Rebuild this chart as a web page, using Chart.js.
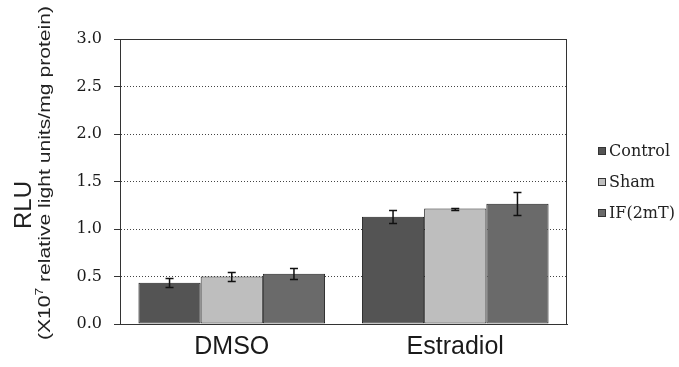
<!DOCTYPE html>
<html>
<head>
<meta charset="utf-8">
<script src="https://cdn.jsdelivr.net/npm/chart.js@4.4.1/dist/chart.umd.min.js"></script>
<style>
  html, body { margin: 0; padding: 0; background: #fff; }
  #wrap { width: 679px; height: 367px; }
</style>
</head>
<body>
<div id="wrap"><canvas id="rlu-chart" width="679" height="367"></canvas></div>
<script>
// ---- data ----
const groups = ['DMSO', 'Estradiol'];
const seriesNames = ['Control', 'Sham', 'IF(2mT)'];
const controlVals = [0.435, 1.13];
const shamVals    = [0.50, 1.215];
const ifVals      = [0.53, 1.265];
const controlErr  = [0.045, 0.065];
const shamErr     = [0.045, 0.01];
const ifErr       = [0.06, 0.12];
const yTicks      = [0, 0.5, 1.0, 1.5, 2.0, 2.5, 3.0];

const fills = ['#545454', '#bebebe', '#6a6a6a'];
const serif = '"DejaVu Serif", "Liberation Serif", serif';
const sans  = '"Liberation Sans", Arial, sans-serif';

/*** ======== error bars ======== ***/
const errorBars = {
    id: 'errorBars',
    afterDatasetsDraw(chart) {
        const ctx = chart.ctx;
        const y = chart.scales.y;
        ctx.save();
        ctx.strokeStyle = '#111';
        ctx.lineWidth = 1.5;
        chart.data.datasets.forEach((ds, i) => {
            const meta = chart.getDatasetMeta(i);
            meta.data.forEach((bar, j) => {
                const v = ds.data[j], e = ds.errors[j];
                const top = Math.round(y.getPixelForValue(v + e)) + 0.5;
                const bot = Math.round(y.getPixelForValue(v - e)) + 0.5;
                ctx.beginPath();
                ctx.moveTo(bar.x, top); ctx.lineTo(bar.x, bot);
                ctx.moveTo(bar.x - 4, top); ctx.lineTo(bar.x + 4, top);
                ctx.moveTo(bar.x - 4, bot); ctx.lineTo(bar.x + 4, bot);
                ctx.stroke();
            });
        });
        ctx.restore();
    }
};

/*** ======== frame, y title, legend ======== ***/
const frameAndTitle = {
    id: 'frameAndTitle',
    afterDraw(chart) {
        const ctx = chart.ctx;
        const a = chart.chartArea;
        ctx.save();
        ctx.strokeStyle = '#333';
        ctx.lineWidth = 1;
        ctx.strokeRect(Math.round(a.left) + 0.5, Math.round(a.top) + 0.5,
                       Math.round(a.right - a.left) - 1, Math.round(a.bottom - a.top));
        ctx.restore();

        // "RLU"
        ctx.save();
        ctx.fillStyle = '#222';
        ctx.translate(31, 205);
        ctx.rotate(-Math.PI / 2);
        ctx.textAlign = 'center';
        ctx.textBaseline = 'alphabetic';
        ctx.font = '24px ' + sans;
        ctx.fillText('RLU', 0, 0);
        ctx.restore();

        // second line with superscript 7, stretched to the figure's length
        ctx.save();
        ctx.fillStyle = '#222';
        ctx.translate(50, 173);
        ctx.rotate(-Math.PI / 2);
        ctx.textBaseline = 'alphabetic';
        const p1 = '(X10', sup = '7', p2 = ' relative light units/mg protein)';
        ctx.font = '17px ' + sans;
        const w1 = ctx.measureText(p1).width, w3 = ctx.measureText(p2).width;
        ctx.font = '11px ' + sans;
        const w2 = ctx.measureText(sup).width;
        const total = w1 + w2 + w3;
        ctx.scale(334 / total, 1);
        let x = -total / 2;
        ctx.font = '17px ' + sans;
        ctx.fillText(p1, x, 0); x += w1;
        ctx.font = '11px ' + sans;
        ctx.fillText(sup, x, -7); x += w2;
        ctx.font = '17px ' + sans;
        ctx.fillText(p2, x, 0);
        ctx.restore();

        // legend
        ctx.save();
        ctx.font = '16px ' + serif;
        ctx.textBaseline = 'middle';
        seriesNames.forEach((name, i) => {
            const cy = 151 + i * 31;
            ctx.fillStyle = fills[i];
            ctx.fillRect(598, cy - 4, 8, 8);
            ctx.strokeStyle = '#333';
            ctx.strokeRect(598.5, cy - 3.5, 7, 7);
            ctx.fillStyle = '#222';
            ctx.fillText(name, 609, cy + 1);
        });
        ctx.restore();
    }
};

function makeSet(label, vals, errs, color) {
    return {
        label: label,
        data: vals,
        errors: errs,
        backgroundColor: color,
        borderColor: '#222',
        borderWidth: 1,
        borderSkipped: false,
        categoryPercentage: 0.835,
        barPercentage: 1.0
    };
}

const ctx = document.getElementById('rlu-chart').getContext('2d');
new Chart(ctx, {
    type: 'bar',
    data: {
        labels: groups,
        datasets: [
            makeSet(seriesNames[0], controlVals, controlErr, fills[0]),
            makeSet(seriesNames[1], shamVals, shamErr, fills[1]),
            makeSet(seriesNames[2], ifVals, ifErr, fills[2])
        ]
    },
    options: {
        responsive: false,
        animation: false,
        layout: { padding: { left: 76, top: 39, right: 112, bottom: 0 } },
        plugins: {
            tooltip: { enabled: false },
            legend: { display: false }
        },
        scales: {
            x: {
                afterFit(axis) { axis.height = 43; },
                grid: { display: false, drawTicks: false },
                border: { color: '#333' },
                ticks: {
                    color: '#1a1a1a',
                    padding: 8,
                    font: { family: sans, size: 25 }
                }
            },
            y: {
                min: 0,
                max: 3,
                afterBuildTicks(axis) { axis.ticks = yTicks.map(v => ({ value: v })); },
                afterFit(axis) { axis.width = 44; },
                grid: {
                    color: '#444',
                    lineWidth: 1,
                    tickLength: 6,
                    tickColor: '#333',
                    tickBorderDash: []
                },
                border: { color: '#333', dash: [1, 2] },
                ticks: {
                    color: '#1a1a1a',
                    padding: 12,
                    font: { family: serif, size: 16 },
                    callback: v => Number(v).toFixed(1)
                }
            }
        }
    },
    plugins: [errorBars, frameAndTitle]
});
</script>
</body>
</html>
